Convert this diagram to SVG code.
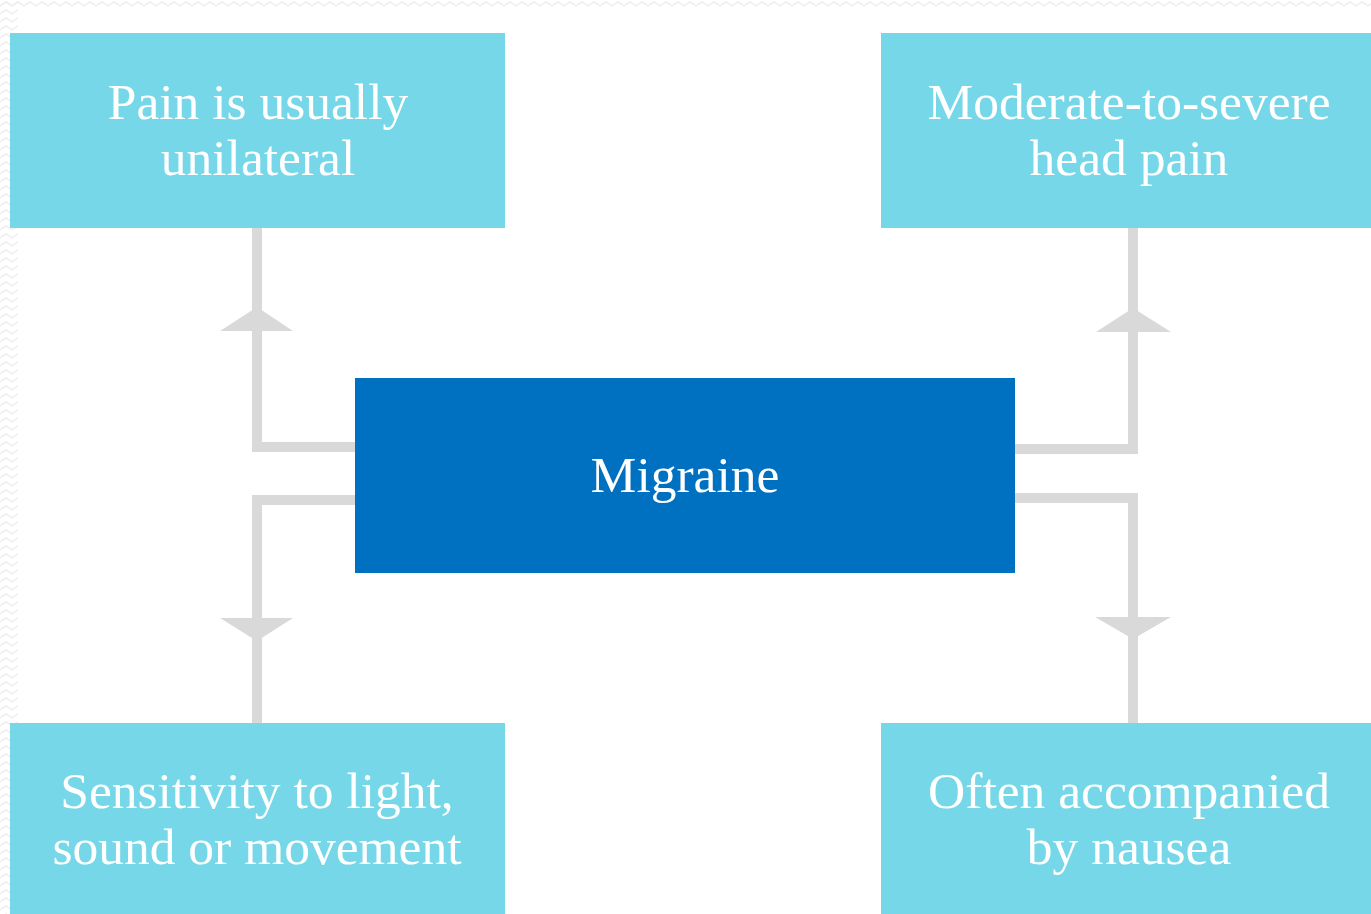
<svg xmlns="http://www.w3.org/2000/svg" width="1371" height="914" viewBox="0 0 1371 914">
<defs>
<style>
.leaf{fill:#76D7E8}
.hub{fill:#0070C0}
.t{font-family:"Liberation Serif","Times New Roman",serif;font-size:51.5px;fill:#FFFFFF;text-anchor:middle}
.ln{fill:none;stroke:#D9D9D9;stroke-width:10;stroke-linejoin:miter}
.ah{fill:#D9D9D9}
</style>
<pattern id="zz" width="12" height="8" patternUnits="userSpaceOnUse">
<path d="M0,6 L6,2 L12,6" fill="none" stroke="#EEEEEE" stroke-width="1.5"/>
</pattern>
</defs>
<rect x="0" y="0" width="1371" height="914" fill="#FFFFFF"/>
<rect x="0" y="0" width="1371" height="8" fill="url(#zz)"/>
<rect x="0" y="0" width="18" height="914" fill="url(#zz)"/>
<g id="connectors">
<polyline class="ln" points="355,447 257,447 257,228"/>
<polygon class="ah" points="257,307 293,331 220,331"/>
<polyline class="ln" points="355,500 257,500 257,723"/>
<polygon class="ah" points="220,618 293,618 257,641"/>
<polyline class="ln" points="1015,449 1133,449 1133,228"/>
<polygon class="ah" points="1133,308 1171,332 1096,332"/>
<polyline class="ln" points="1015,498 1133,498 1133,723"/>
<polygon class="ah" points="1095,617 1171,617 1133,639"/>
</g>
<g id="hub">
<rect class="hub" x="355" y="378" width="660" height="195"/>
<text class="t" x="685" y="492">Migraine</text>
</g>
<g id="node-tl">
<rect class="leaf" x="10" y="33" width="495" height="195"/>
<text class="t" x="258" y="119">Pain is usually</text>
<text class="t" x="258" y="175">unilateral</text>
</g>
<g id="node-tr">
<rect class="leaf" x="881" y="33" width="490" height="195"/>
<text class="t" x="1129" y="119">Moderate-to-severe</text>
<text class="t" x="1129" y="175">head pain</text>
</g>
<g id="node-bl">
<rect class="leaf" x="10" y="723" width="495" height="191"/>
<text class="t" x="257" y="808">Sensitivity to light,</text>
<text class="t" x="257" y="864">sound or movement</text>
</g>
<g id="node-br">
<rect class="leaf" x="881" y="723" width="490" height="191"/>
<text class="t" x="1129" y="808">Often accompanied</text>
<text class="t" x="1129" y="864">by nausea</text>
</g>
</svg>
